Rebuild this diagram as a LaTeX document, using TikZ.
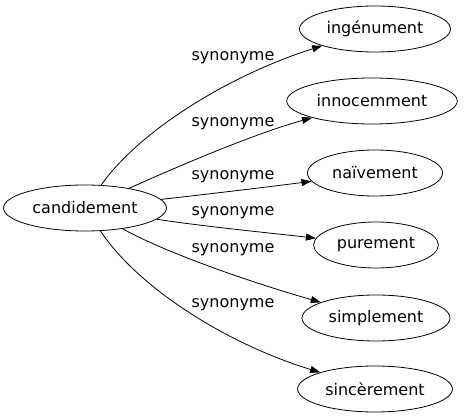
\documentclass[tikz,border=0pt]{standalone}
\usepackage{fontspec}
\setmainfont{DejaVu Sans}
\usetikzlibrary{arrows.meta,shapes.geometric}
\begin{document}
\begin{tikzpicture}[x=1pt,y=-1pt,
  word/.style={draw,ellipse,line width=0.8pt,inner xsep=5pt,inner ysep=2pt,minimum height=46pt,font=\fontsize{16pt}{18pt}\selectfont},
  lbl/.style={font=\fontsize{16pt}{18pt}\selectfont,inner sep=0pt},
  edge/.style={line width=0.8pt,-{Triangle[length=10pt,width=7pt]}}]
\useasboundingbox (0,0) rectangle (466,419);
\node[word] (c) at (85,208) {candidement};
\node[word] (n1) at (375,29) {ingénument};
\node[word] (n2) at (372,101) {innocemment};
\node[word] (n3) at (375,173) {naïvement};
\node[word] (n4) at (376,245) {purement};
\node[word] (n5) at (376,318) {simplement};
\node[word] (n6) at (375,389) {sincèrement};
\draw[edge] (c) .. controls (140,130) and (230,75) .. (n1);
\draw[edge] (c) .. controls (170,170) and (250,135) .. (n2);
\draw[edge] (c) .. controls (200,195) and (260,188) .. (n3);
\draw[edge] (c) .. controls (200,226) and (270,233) .. (n4);
\draw[edge] (c) .. controls (170,255) and (260,285) .. (n5);
\draw[edge] (c) .. controls (140,290) and (230,345) .. (n6);
\node[lbl] (l1) at (233,58) {synonyme};
\node[lbl] (l2) at (233,124) {synonyme};
\node[lbl] (l3) at (233,177) {synonyme};
\node[lbl] (l4) at (233,213) {synonyme};
\node[lbl] (l5) at (233,250) {synonyme};
\node[lbl] (l6) at (233,305) {synonyme};
\end{tikzpicture}
\end{document}
